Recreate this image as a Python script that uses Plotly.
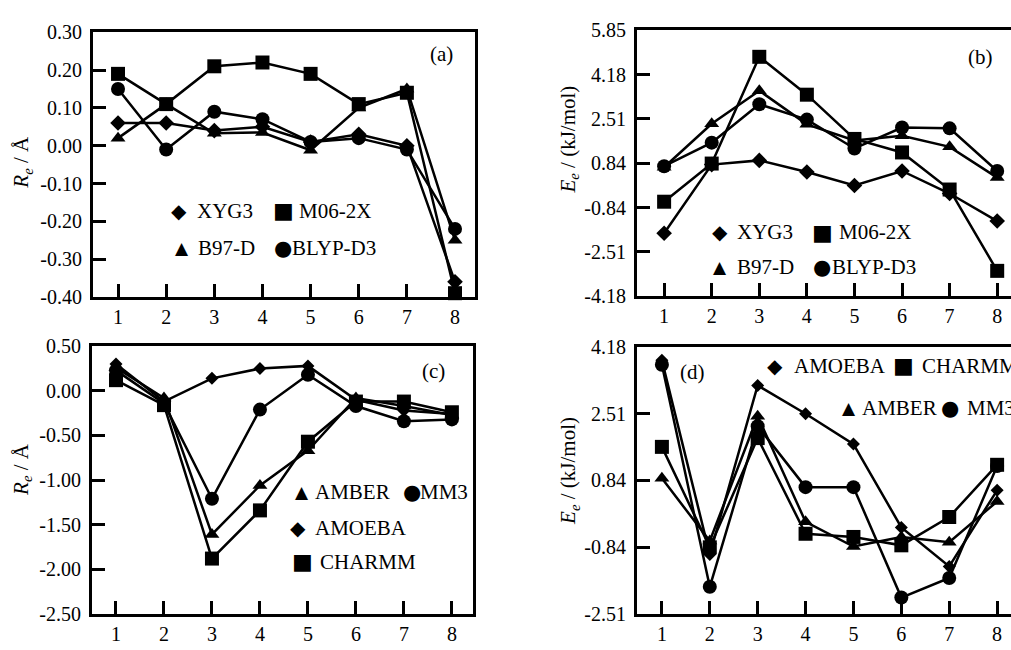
import plotly.graph_objects as go

W, H = 1011, 650

# ---------------- data ----------------
x_idx = [1, 2, 3, 4, 5, 6, 7, 8]
x_ticktext = ["1", "2", "3", "4", "5", "6", "7", "8"]

# panel (a)  R_e / Å
a_xyg3 = [0.06, 0.06, 0.04, 0.05, 0.01, 0.03, 0.00, -0.36]
a_m062x = [0.19, 0.11, 0.21, 0.22, 0.19, 0.11, 0.14, -0.39]
a_b97d = [0.02, 0.11, 0.033, 0.035, -0.012, 0.10, 0.15, -0.25]
a_blypd3 = [0.15, -0.01, 0.09, 0.07, 0.01, 0.02, -0.01, -0.22]
a_yticks = [-0.40, -0.30, -0.20, -0.10, 0.00, 0.10, 0.20, 0.30]
a_yticktext = ["-0.40", "-0.30", "-0.20", "-0.10", "0.00", "0.10", "0.20", "0.30"]

# panel (b)  E_e / (kJ/mol)
b_xyg3 = [-1.81, 0.78, 0.94, 0.50, -0.01, 0.54, -0.31, -1.35]
b_m062x = [-0.62, 0.82, 4.85, 3.42, 1.75, 1.24, -0.16, -3.23]
b_b97d = [0.68, 2.32, 3.57, 2.30, 1.69, 1.87, 1.45, 0.29]
b_blypd3 = [0.72, 1.61, 3.06, 2.48, 1.39, 2.18, 2.15, 0.54]
b_yticks = [-4.18, -2.51, -0.84, 0.84, 2.51, 4.18, 5.85]
b_yticktext = ["-4.18", "-2.51", "-0.84", "0.84", "2.51", "4.18", "5.85"]

# panel (c)  R_e / Å
c_amber = [0.26, -0.08, -1.61, -1.06, -0.67, -0.08, -0.17, -0.27]
c_mm3 = [0.23, -0.14, -1.21, -0.21, 0.18, -0.17, -0.34, -0.32]
c_amoeba = [0.30, -0.12, 0.14, 0.25, 0.28, -0.10, -0.22, -0.26]
c_charmm = [0.12, -0.16, -1.88, -1.34, -0.57, -0.12, -0.12, -0.24]
c_yticks = [-2.50, -2.00, -1.50, -1.00, -0.50, 0.00, 0.50]
c_yticktext = ["-2.50", "-2.00", "-1.50", "-1.00", "-0.50", "0.00", "0.50"]

# panel (d)  E_e / (kJ/mol)
d_amoeba = [3.85, -1.02, 3.22, 2.51, 1.75, -0.34, -1.32, 0.59]
d_charmm = [1.68, -0.84, 1.90, -0.50, -0.58, -0.79, -0.08, 1.23]
d_amber = [0.89, -0.68, 2.45, -0.20, -0.82, -0.58, -0.71, 0.31]
d_mm3 = [3.74, -1.83, 2.20, 0.67, 0.67, -2.10, -1.61, 1.20]
d_yticks = [-2.51, -0.84, 0.84, 2.51, 4.18]
d_yticktext = ["-2.51", "-0.84", "0.84", "2.51", "4.18"]

# ---------------- helpers ----------------
def px(x):
    return x / W

def py(y):
    return 1 - y / H

SERIF = "Liberation Serif, Times New Roman, Times, serif"
SYM = {"diamond": ("diamond", 12), "square": ("square", 14),
       "triangle": ("triangle-up", 13), "circle": ("circle", 14)}
GLYPH = {"diamond": ("\u25C6", 20), "square": ("\u25A0", 22),
         "triangle": ("\u25B2", 17), "circle": ("\u25CF", 21)}

fig = go.Figure()

def add_series(xa, ya, yvals, name, sym, msize=None):
    s, sz = SYM[sym]
    fig.add_trace(go.Scatter(
        x=x_idx, y=yvals, name=name, mode="lines+markers",
        xaxis=xa, yaxis=ya, showlegend=False, cliponaxis=False,
        line=dict(color="black", width=2.5),
        marker=dict(symbol=s, size=msize or sz, color="black"),
    ))

add_series("x", "y", a_xyg3, "XYG3", "diamond")
add_series("x", "y", a_m062x, "M06-2X", "square")
add_series("x", "y", a_b97d, "B97-D", "triangle")
add_series("x", "y", a_blypd3, "BLYP-D3", "circle")

add_series("x2", "y2", b_xyg3, "XYG3", "diamond")
add_series("x2", "y2", b_m062x, "M06-2X", "square")
add_series("x2", "y2", b_b97d, "B97-D", "triangle")
add_series("x2", "y2", b_blypd3, "BLYP-D3", "circle")

add_series("x3", "y3", c_amber, "AMBER", "triangle")
add_series("x3", "y3", c_mm3, "MM3", "circle")
add_series("x3", "y3", c_amoeba, "AMOEBA", "diamond", 10)
add_series("x3", "y3", c_charmm, "CHARMM", "square", 14)

add_series("x4", "y4", d_amoeba, "AMOEBA", "diamond", 10)
add_series("x4", "y4", d_charmm, "CHARMM", "square", 14)
add_series("x4", "y4", d_amber, "AMBER", "triangle")
add_series("x4", "y4", d_mm3, "MM3", "circle", 14)

tickfont = dict(family=SERIF, size=20, color="black")

def xaxis(domain, rng, anchor):
    return dict(domain=domain, range=rng, anchor=anchor,
                tickvals=x_idx, ticktext=x_ticktext,
                ticks="inside", ticklen=13, tickwidth=2.5, tickcolor="black",
                showline=True, linewidth=3, linecolor="black", mirror=True,
                showgrid=False, zeroline=False, tickfont=tickfont)

def yaxis(domain, rng, anchor, tv, tt, mirror):
    return dict(domain=domain, range=rng, anchor=anchor,
                tickvals=tv, ticktext=tt,
                ticks="inside", ticklen=13, tickwidth=2.5, tickcolor="black",
                showline=True, linewidth=3, linecolor="black", mirror=mirror,
                showgrid=False, zeroline=False, tickfont=tickfont,
                ticklabelstandoff=4)

fig.update_layout(
    width=W, height=H, margin=dict(l=0, r=0, t=0, b=0),
    paper_bgcolor="white", plot_bgcolor="white", showlegend=False,
    xaxis=xaxis([px(93), px(475)], [0.48, 8.415], "y"),
    yaxis=yaxis([py(296), py(22)], [-0.40, 0.30], "x", a_yticks, a_yticktext, True),
    xaxis2=xaxis([px(637), 1.0], [0.43, 8.29], "y2"),
    yaxis2=yaxis([py(295), py(20)], [-4.18, 5.85], "x2", b_yticks, b_yticktext, False),
    xaxis3=xaxis([px(92), px(473)], [0.50, 8.44], "y3"),
    yaxis3=yaxis([py(624), py(347)], [-2.50, 0.50], "x3", c_yticks, c_yticktext, True),
    xaxis4=xaxis([px(637), 1.0], [0.48, 8.29], "y4"),
    yaxis4=yaxis([py(624), py(348)], [-2.51, 4.18], "x4", d_yticks, d_yticktext, False),
)

ann = []

def text(x, y, s, size=21, xanchor="center", angle=0, family=SERIF):
    ann.append(dict(x=px(x), y=py(y), xref="paper", yref="paper", text=s,
                    showarrow=False, xanchor=xanchor, yanchor="middle",
                    textangle=angle, font=dict(family=family, size=size, color="black")))

# panel tags
text(441, 45, "(a)")
text(980, 48, "(b)")
text(433, 373, "(c)")
text(692, 374, "(d)")

# axis titles
text(22, 157, "<i>R</i><sub><i>e</i></sub> / Å", angle=-90)
text(22, 475, "<i>R</i><sub><i>e</i></sub> / Å", angle=-90)
text(569, 133, "<i>E</i><sub><i>e</i></sub> / (kJ/mol)", angle=-90)
text(569, 476, "<i>E</i><sub><i>e</i></sub> / (kJ/mol)", angle=-90)

# in-plot legends: (symbol, label, symbol x, label x, y)
legend_items = [
    ("diamond", "XYG3", 179, 195, 207), ("square", "M06-2X", 283, 297, 207),
    ("triangle", "B97-D", 182, 196, 245), ("circle", "BLYP-D3", 283, 290, 245),
    ("diamond", "XYG3", 720, 735, 229), ("square", "M06-2X", 822, 837, 229),
    ("triangle", "B97-D", 720, 735, 265), ("circle", "BLYP-D3", 822, 830, 265),
    ("triangle", "AMBER", 302, 313, 498), ("circle", "MM3", 412, 418, 498),
    ("diamond", "AMOEBA", 298, 313, 535), ("square", "CHARMM", 302, 318, 570),
    ("diamond", "AMOEBA", 775, 792, 367), ("square", "CHARMM", 903, 920, 367),
    ("triangle", "AMBER", 849, 860, 411), ("circle", "MM3", 950, 965, 411),
]
for sym, label, sx, tx, y in legend_items:
    g, gs = GLYPH[sym]
    text(sx, y, g, size=gs, family="DejaVu Sans")
    text(tx, y, label, size=21, xanchor="left")

fig.update_layout(annotations=ann)
fig.write_html("out.html", config={"displayModeBar": False},
               post_script="document.body.style.margin='0';document.body.style.overflow='hidden';")
